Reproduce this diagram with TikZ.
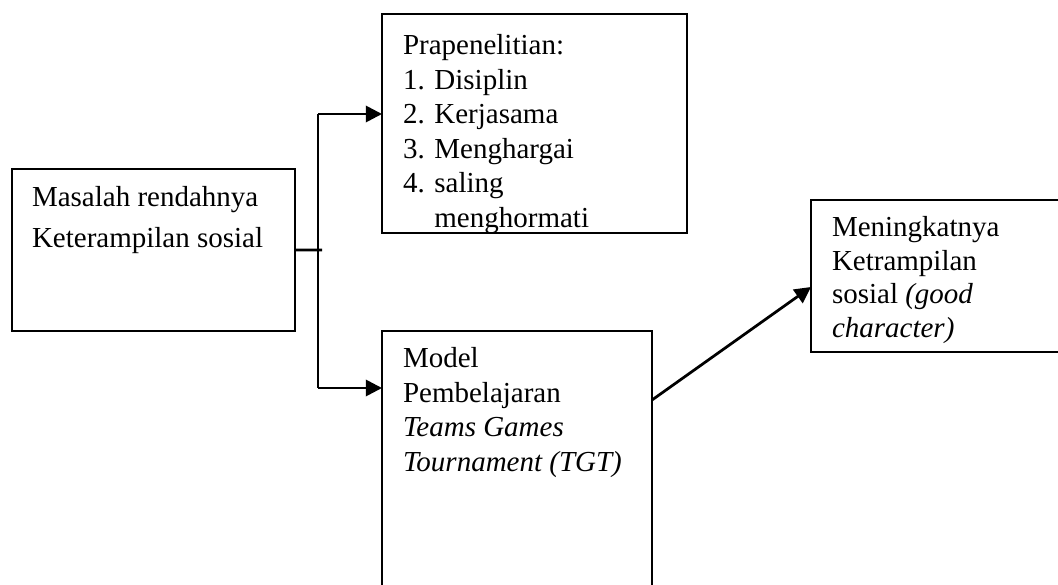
\documentclass[tikz,border=0pt]{standalone}
\usepackage{fontspec}
\setmainfont{Liberation Serif}
\usetikzlibrary{positioning,arrows.meta}

\begin{document}
\begin{tikzpicture}[x=0.4pt,y=-0.4pt]
\tikzstyle{every node}+=[inner sep=0pt, outer sep=0pt]
\tikzset{
  kotak/.style={draw=black, line width=0.8pt, rectangle, anchor=north west},
  isi/.style={anchor=north west, align=left, font=\fontsize{11.6}{13.8}\selectfont},
  garis/.style={draw=black, line width=1.1pt},
  panah/.style={garis, -{Triangle[length=6.5pt,width=6.5pt]}}
}
\useasboundingbox (0,0) rectangle (1058,585);
% kotak-kotak
\node [kotak, minimum width=113.2pt, minimum height=64.8pt] (masalah) at (12,169) {};
\node [kotak, minimum width=122pt, minimum height=87.6pt] (pra) at (382,14) {};
\node [kotak, minimum width=108pt, minimum height=107.6pt] (model) at (382,331) {};
\node [kotak, minimum width=105.6pt, minimum height=60.8pt] (hasil) at (811,200) {};
% teks
\node [isi, font=\fontsize{11.6}{16.4}\selectfont] (tmasalah) at (32,178.3)
  {\strut Masalah rendahnya\\Keterampilan sosial};
\begin{scope}
\clip (382,14) rectangle (687,233);
\node [isi] (tpra) at (403,30.8)
  {\strut Prapenelitian:\\1. Disiplin\\2. Kerjasama\\3. Menghargai\\4. saling\\\phantom{4. }menghormati};
\end{scope}
\node [isi] (tmodel) at (403,343.8)
  {\strut Model\\Pembelajaran\\\textit{Teams Games}\\\textit{Tournament (TGT)}};
\node [isi, font=\fontsize{11.6}{13.4}\selectfont] (thasil) at (832,213.5)
  {\strut Meningkatnya\\Ketrampilan\\sosial \textit{(good}\\\textit{character)}};
% penghubung
\coordinate (cabang) at (322,250);
\coordinate (atas) at (318,114);
\coordinate (bawah) at (318,388);
\coordinate (keluar) at (652,400);
\coordinate (masuk) at (811,287);
\draw [garis] (masalah.east) -- (cabang);
\draw [garis] (atas) -- (bawah);
\draw [panah] (atas) -- (atas -| pra.west);
\draw [panah] (bawah) -- (bawah -| model.west);
\draw [panah] (keluar) -- (masuk);
\end{tikzpicture}
\end{document}
